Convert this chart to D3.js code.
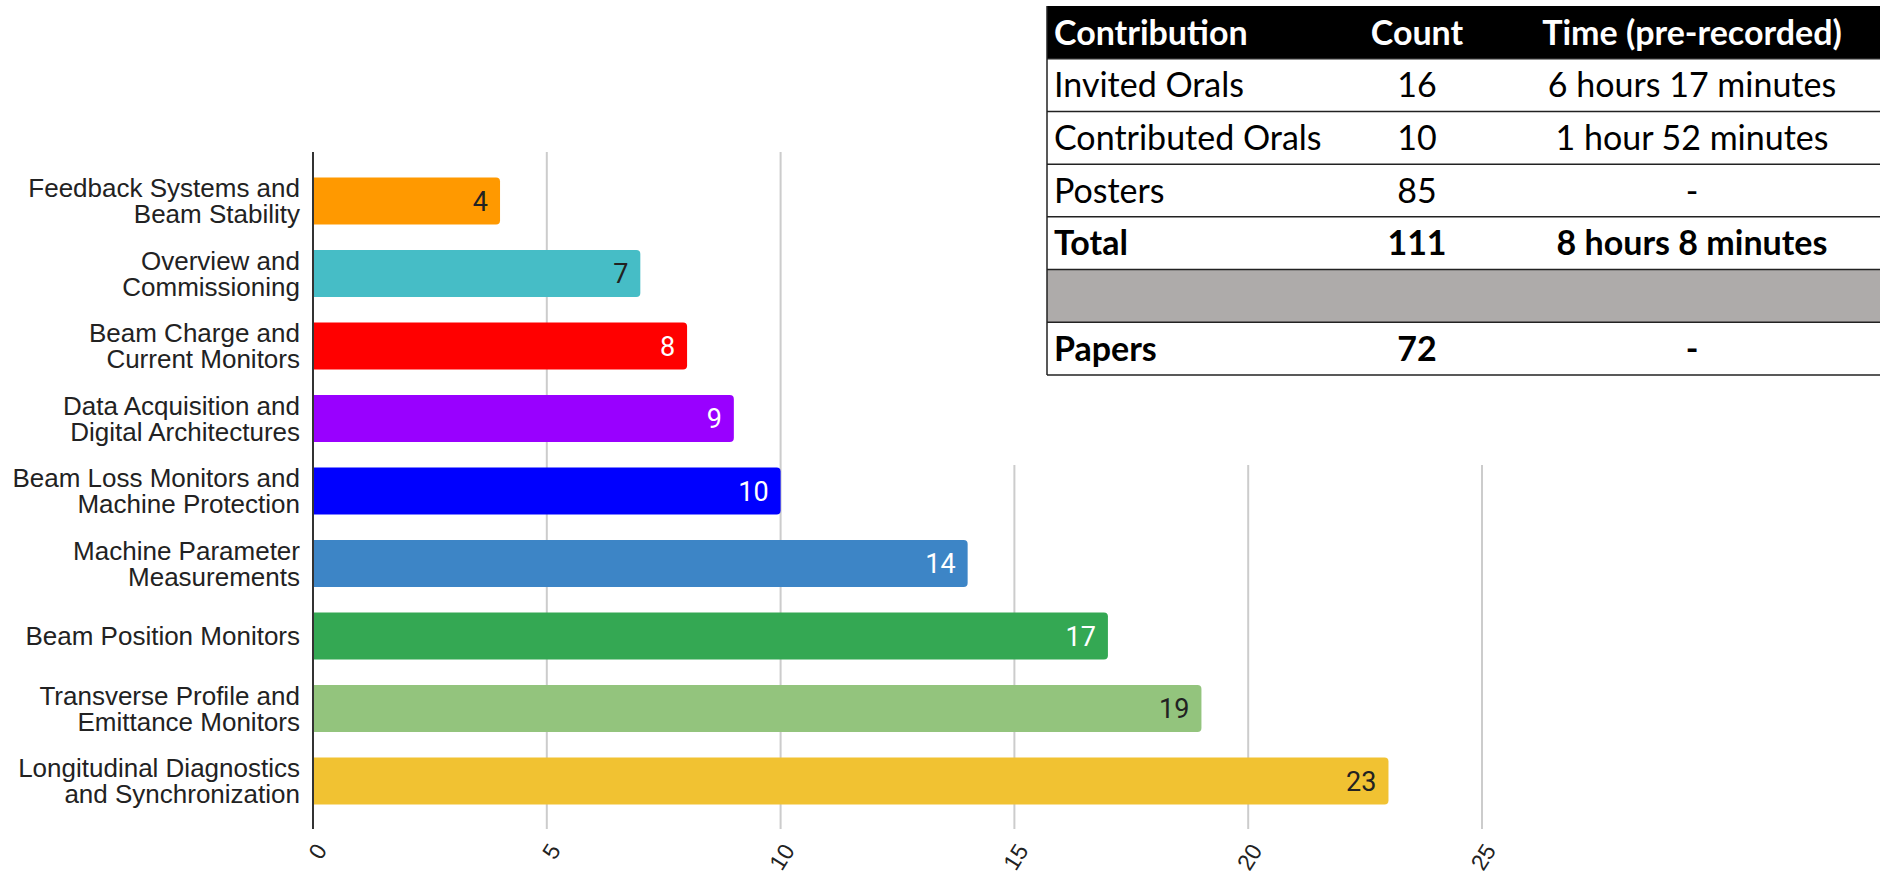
<!DOCTYPE html>
<html>
<head>
<meta charset="utf-8">
<script src="https://cdn.jsdelivr.net/npm/d3@7/dist/d3.min.js"></script>
<style>
  html, body { margin: 0; padding: 0; background: #fff; }
  svg { display: block; }
</style>
</head>
<body>
<svg id="chart" width="1880" height="876"></svg>
<script>
// bar chart data
var categories = [
  ["Feedback Systems and", "Beam Stability"],
  ["Overview and", "Commissioning"],
  ["Beam Charge and", "Current Monitors"],
  ["Data Acquisition and", "Digital Architectures"],
  ["Beam Loss Monitors and", "Machine Protection"],
  ["Machine Parameter", "Measurements"],
  ["Beam Position Monitors"],
  ["Transverse Profile and", "Emittance Monitors"],
  ["Longitudinal Diagnostics", "and Synchronization"]
];
var counts = [4, 7, 8, 9, 10, 14, 17, 19, 23];
var barColors = ["#ff9900", "#46bdc6", "#ff0000", "#9900ff", "#0000ff",
                 "#3d85c6", "#34a853", "#93c47d", "#f1c232"];
var xTicks = [0, 5, 10, 15, 20, 25];

// table data
var tableHeader = ["Contribution", "Count", "Time (pre-recorded)"];
var tableRows = [
  ["Invited Orals", "16", "6 hours 17 minutes"],
  ["Contributed Orals", "10", "1 hour 52 minutes"],
  ["Posters", "85", "-"],
  ["Total", "111", "8 hours 8 minutes"],
  ["", "", ""],
  ["Papers", "72", "-"]
];
var boldRows = ["Total", "Papers"];

var svg = d3.select("#chart");

var x = d3.scaleLinear()
  .domain([0, 25])
  .range([313, 1482]);

var y = d3.scaleBand()
  .domain(d3.range(categories.length))
  .range([164.75, 817.25])
  .paddingInner(0.35)
  .paddingOuter(0.175);

var plotTop = 152, plotBottom = 829;

// gridlines
svg.append("g")
  .attr("class", "grid")
  .selectAll("line")
  .data(xTicks.filter(d => d > 0))
  .enter()
  .append("line")
  .attr("x1", d => x(d))
  .attr("x2", d => x(d))
  .attr("y1", plotTop)
  .attr("y2", plotBottom)
  .attr("stroke", "#cccccc")
  .attr("stroke-width", 2);

// tick labels, slanted
svg.append("g")
  .selectAll("text")
  .data(xTicks)
  .enter()
  .append("text")
  .attr("transform", d => "translate(" + (x(d) + 8) + ",846) rotate(-58)")
  .attr("dy", "0.35em")
  .attr("text-anchor", "end")
  .attr("font-family", "Liberation Sans, Arial, sans-serif")
  .attr("font-size", 23)
  .attr("fill", "#222")
  .text(d => d);

// bars, rounded on the right end only
function barPath(i) {
  let x0 = x(0), x1 = x(counts[i]), y0 = y(i), h = y.bandwidth(), r = 4;
  return "M" + x0 + "," + y0 +
    "H" + (x1 - r) +
    "Q" + x1 + "," + y0 + " " + x1 + "," + (y0 + r) +
    "V" + (y0 + h - r) +
    "Q" + x1 + "," + (y0 + h) + " " + (x1 - r) + "," + (y0 + h) +
    "H" + x0 + "Z";
}

svg.append("g")
  .attr("class", "bars")
  .selectAll("path")
  .data(counts)
  .enter()
  .append("path")
  .attr("d", (d, i) => barPath(i))
  .attr("fill", (d, i) => barColors[i]);

// values inside bars
svg.append("g")
  .selectAll("text")
  .data(counts)
  .enter()
  .append("text")
  .attr("x", d => x(d) - 12)
  .attr("y", (d, i) => y(i) + y.bandwidth() / 2)
  .attr("dy", "0.36em")
  .attr("text-anchor", "end")
  .attr("font-family", "Roboto, sans-serif")
  .attr("font-size", 27)
  .attr("fill", (d, i) => d3.lab(barColors[i]).l > 65 ? "#222" : "#fff")
  .text(d => d);

// category labels
var lineH = 26;
var labels = svg.append("g")
  .selectAll("text")
  .data(categories)
  .enter()
  .append("text")
  .attr("text-anchor", "end")
  .attr("font-family", "Liberation Sans, Arial, sans-serif")
  .attr("font-size", 26)
  .attr("fill", "#222");

labels.each(function(lines, i) {
  let cy = y(i) + y.bandwidth() / 2;
  let first = cy - (lines.length - 1) * lineH / 2;
  d3.select(this).selectAll("tspan")
    .data(lines)
    .enter()
    .append("tspan")
    .attr("x", 300)
    .attr("y", (d, k) => first + k * lineH)
    .attr("dy", "0.35em")
    .text(d => d);
});

// vertical axis line
svg.append("line")
  .attr("x1", x(0))
  .attr("x2", x(0))
  .attr("y1", plotTop)
  .attr("y2", plotBottom)
  .attr("stroke", "#333")
  .attr("stroke-width", 2);

// table pasted on top of the chart (white backing hides the upper gridlines)
var table = svg.append("g").attr("class", "table");

table.append("rect")
  .attr("x", 1000)
  .attr("y", 0)
  .attr("width", 880)
  .attr("height", 465)
  .attr("fill", "#fff");

var tLeft = 1047, tRight = 1880;
var rowY = d3.scaleBand()
  .domain(d3.range(tableRows.length + 1))
  .range([6, 375]);
var colX = [1054, 1417, 1692];
var colAnchor = ["start", "middle", "middle"];

table.append("rect")
  .attr("x", tLeft)
  .attr("y", rowY(0))
  .attr("width", tRight - tLeft)
  .attr("height", rowY.bandwidth())
  .attr("fill", "#000");

table.append("rect")
  .attr("x", tLeft)
  .attr("y", rowY(5))
  .attr("width", tRight - tLeft)
  .attr("height", rowY.bandwidth())
  .attr("fill", "#aeabaa");

// horizontal rules
table.selectAll("line.rule")
  .data(d3.range(1, tableRows.length + 2))
  .enter()
  .append("line")
  .attr("class", "rule")
  .attr("x1", tLeft)
  .attr("x2", tRight)
  .attr("y1", d => rowY(d) !== undefined ? rowY(d) : 375)
  .attr("y2", d => rowY(d) !== undefined ? rowY(d) : 375)
  .attr("stroke", "#222")
  .attr("stroke-width", 1.5);

table.append("line")
  .attr("x1", tLeft)
  .attr("x2", tLeft)
  .attr("y1", 6)
  .attr("y2", 375)
  .attr("stroke", "#222")
  .attr("stroke-width", 1.5);

var font = "Lato, 'Open Sans', sans-serif";

table.selectAll("text.head")
  .data(tableHeader)
  .enter()
  .append("text")
  .attr("class", "head")
  .attr("x", (d, j) => colX[j])
  .attr("y", rowY(0) + rowY.bandwidth() / 2)
  .attr("dy", "0.36em")
  .attr("text-anchor", (d, j) => colAnchor[j])
  .attr("font-family", font)
  .attr("font-weight", "bold")
  .attr("font-size", 34)
  .attr("fill", "#fff")
  .text(d => d);

tableRows.forEach((row, r) => {
  table.selectAll("text.r" + r)
    .data(row)
    .enter()
    .append("text")
    .attr("class", "r" + r)
    .attr("x", (d, j) => colX[j])
    .attr("y", rowY(r + 1) + rowY.bandwidth() / 2)
    .attr("dy", "0.36em")
    .attr("text-anchor", (d, j) => colAnchor[j])
    .attr("font-family", font)
    .attr("font-weight", boldRows.indexOf(row[0]) >= 0 ? "bold" : "normal")
    .attr("font-size", 34)
    .attr("fill", "#000")
    .text(d => d);
});
</script>
</body>
</html>
